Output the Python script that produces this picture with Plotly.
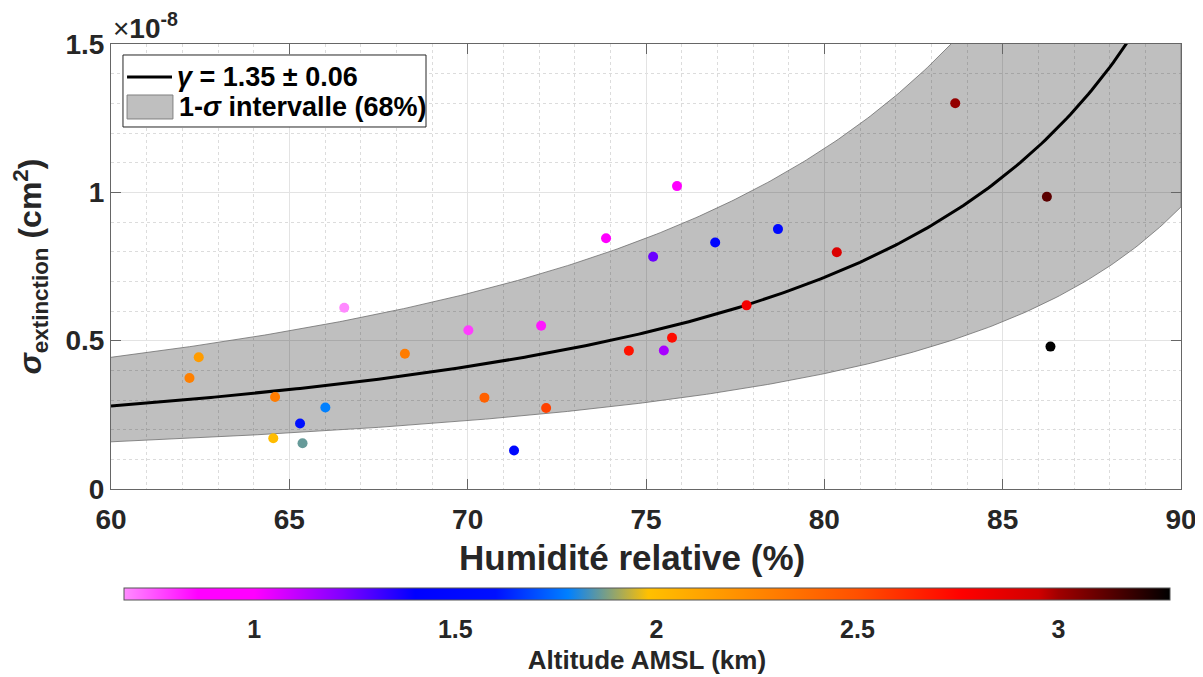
import numpy as np
import plotly.graph_objects as go

# ---------------- data ----------------
rh = [62.20, 62.46, 64.60, 64.55, 65.30, 65.37, 66.01, 66.54, 68.24, 70.02,
      70.47, 71.30, 72.06, 72.20, 73.88, 74.52, 75.20, 75.50, 75.73, 75.87,
      76.94, 77.82, 78.70, 80.35, 83.67, 86.24, 86.34]
sigma = [0.374, 0.444, 0.310, 0.171, 0.221, 0.154, 0.275, 0.611, 0.456, 0.535,
         0.308, 0.130, 0.550, 0.273, 0.845, 0.466, 0.783, 0.467, 0.510, 1.021,
         0.831, 0.619, 0.876, 0.798, 1.300, 0.985, 0.480]   # x 1e-8 cm^2
altitude = [2.28, 2.15, 2.30, 2.00, 1.60, 1.86, 1.78, 0.68, 2.30, 0.78,
            2.42, 1.50, 0.83, 2.55, 0.95, 2.70, 1.25, 1.15, 2.72, 0.95,
            1.45, 2.80, 1.50, 2.90, 3.02, 3.12, 3.277]

# fit parameters (sigma = s0 * (1 - RH/100)^-gamma)
gamma_fit = 1.35
gamma_err = 0.06
s0_fit = 0.0812
s0_hi = 0.1265
gamma_hi = 1.37
s0_lo = 0.04877
gamma_lo = 1.29

x_ticks = [60, 65, 70, 75, 80, 85, 90]
y_ticks = [0, 0.5, 1, 1.5]
y_ticklabels = ["0", "0.5", "1", "1.5"]
cb_ticks = [1, 1.5, 2, 2.5, 3]
cb_ticklabels = ["1", "1.5", "2", "2.5", "3"]
alt_min, alt_max = 0.676, 3.277

x_title = "<b>Humidité relative (%)</b>"
legend_labels = [f"<b><i>γ</i> = {gamma_fit:.2f} ± {gamma_err:.2f}</b>",
                 "<b>1-<i>σ</i> intervalle (68%)</b>"]

# ---------------- model curves ----------------
rh_model = np.linspace(60, 90, 301)
f = 1 - rh_model / 100.0
curve = s0_fit * f ** (-gamma_fit)
upper = s0_hi * f ** (-gamma_hi)
lower = s0_lo * f ** (-gamma_lo)

# colormap stops (altitude km -> colour)
stops = [(0.676, "#ff8cff"), (0.86, "#ff00ff"), (1.0, "#ff00ff"), (1.22, "#8000ff"),
         (1.40, "#0000ff"), (1.60, "#0010ff"), (1.78, "#0080ff"), (1.98, "#ffc000"),
         (2.28, "#ff8000"), (2.50, "#ff5000"), (2.76, "#ff0000"), (2.95, "#d00000"),
         (3.00, "#a00000"), (3.277, "#000000")]
colorscale = [[(a - alt_min) / (alt_max - alt_min), c] for a, c in stops]
colorscale[0][0] = 0.0
colorscale[-1][0] = 1.0

FONT = "Liberation Sans, Arial, sans-serif"
TXT = "#262626"

fig = go.Figure()

fig.add_trace(go.Scatter(
    x=np.concatenate([rh_model, rh_model[::-1]]),
    y=np.concatenate([upper, lower[::-1]]),
    fill="toself", fillcolor="rgba(0,0,0,0.25)",
    line=dict(color="rgba(110,110,110,1)", width=0.8),
    mode="lines", showlegend=False, hoverinfo="skip"))

fig.add_trace(go.Scatter(
    x=rh_model, y=curve, mode="lines",
    line=dict(color="black", width=3), showlegend=False))

fig.add_trace(go.Scatter(
    x=rh, y=sigma, mode="markers", showlegend=False,
    marker=dict(size=10, color=altitude, colorscale=colorscale,
                cmin=alt_min, cmax=alt_max, line=dict(width=0),
                colorbar=dict(
                    orientation="h", x=0.5009, xanchor="center",
                    y=-0.2225, yanchor="top", xpad=0, ypad=0,
                    len=1046, lenmode="pixels", thickness=12, thicknessmode="pixels",
                    outlinewidth=1, outlinecolor="#555555",
                    tickvals=cb_ticks, ticktext=[f"<b>{t}</b>" for t in cb_ticklabels],
                    ticks="outside", ticklen=8, tickcolor="rgba(0,0,0,0)",
                    tickfont=dict(family=FONT, size=25, color=TXT),
                    title=dict(text="<b>Altitude AMSL (km)</b>", side="bottom",
                               font=dict(family=FONT, size=26, color=TXT)),
                ))))

axis_common = dict(
    showline=True, linecolor="#666666", linewidth=1, mirror="ticks",
    ticks="inside", ticklen=10, tickwidth=1, tickcolor="#666666",
    showgrid=True, gridcolor="#e3e3e3", gridwidth=1, zeroline=False,
    automargin=False,
    tickfont=dict(family=FONT, size=28, color=TXT),
)

fig.update_xaxes(
    range=[60, 90], tickvals=x_ticks, ticktext=[f"<b>{t}</b>" for t in x_ticks],
    minor=dict(dtick=1, showgrid=True, gridcolor="#dcdcdc", griddash="dot", ticks=""),
    ticklabelstandoff=5,
    **axis_common)
fig.update_yaxes(
    range=[0, 1.5], tickvals=y_ticks, ticktext=[f"<b>{t}</b>" for t in y_ticklabels],
    minor=dict(dtick=0.1, showgrid=True, gridcolor="#dcdcdc", griddash="dot", ticks=""),
    title=dict(text="<b><i>σ</i><sub>extinction</sub> (cm<sup>2</sup>)</b>", standoff=14,
               font=dict(family=FONT, size=32, color=TXT)),
    **axis_common)

# x-axis title
fig.add_annotation(
    xref="paper", yref="paper", x=0.487, y=-0.155, xanchor="center", yanchor="middle",
    text=x_title, showarrow=False, font=dict(family=FONT, size=35, color=TXT))

# exponent label
fig.add_annotation(
    xref="paper", yref="paper", x=0, y=1, xanchor="left", yanchor="bottom",
    text="×<b>10<sup>-8</sup></b>", showarrow=False, yshift=-2,
    font=dict(family=FONT, size=28, color=TXT))

# legend drawn as shapes + text (MATLAB-like compact box)
fig.add_shape(type="rect", xref="paper", yref="paper", layer="above",
              x0=0.0112, x1=0.2944, y0=0.8135, y1=0.9753,
              fillcolor="white", line=dict(color=TXT, width=1))
fig.add_shape(type="line", xref="paper", yref="paper", layer="above",
              x0=0.0150, x1=0.0570, y0=0.9258, y1=0.9258,
              line=dict(color="black", width=3))
fig.add_shape(type="rect", xref="paper", yref="paper", layer="above",
              x0=0.0150, x1=0.0579, y0=0.8315, y1=0.8854,
              fillcolor="#bfbfbf", line=dict(color="#808080", width=1))
fig.add_annotation(xref="paper", yref="paper", x=0.0598, y=0.9258,
                   xanchor="left", yanchor="middle", showarrow=False,
                   text=legend_labels[0], font=dict(family=FONT, size=27, color="black"))
fig.add_annotation(xref="paper", yref="paper", x=0.0617, y=0.8584,
                   xanchor="left", yanchor="middle", showarrow=False,
                   text=legend_labels[1], font=dict(family=FONT, size=27, color="black"))

# page body adds an 8px margin, so the figure is 8px smaller than the window
fig.update_layout(
    width=1195, height=669,
    margin=dict(l=103, r=22, t=36, b=188, autoexpand=False),
    paper_bgcolor="white", plot_bgcolor="white",
    showlegend=False,
)

fig.write_html("out.html")
